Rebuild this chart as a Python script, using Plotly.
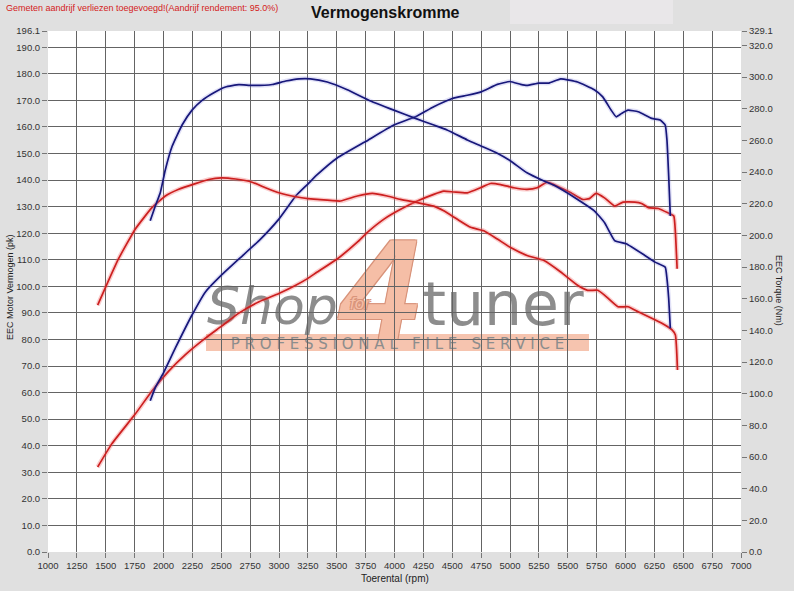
import plotly.graph_objects as go

# ---------------- data ----------------
tuned_power_rpm = [1885, 1929, 2001, 2103, 2247, 2363, 2499, 2653, 2827, 2999, 3145, 3250, 3331, 3504, 3750, 3994,
                   4181, 4340, 4500, 4630, 4750, 4890, 5000, 5092, 5147, 5250, 5337, 5439, 5585, 5730, 5803, 5876,
                   5920, 5964, 6022, 6110, 6227, 6300, 6344, 6359, 6374, 6388]
tuned_power_pk = [56.9, 61.9, 67.5, 76.8, 89.2, 97.9, 104.1, 110.3, 117.2, 125.3, 134.0, 138.5, 142.0, 148.3, 154.5,
                  160.7, 163.8, 167.6, 170.7, 171.9, 173.2, 176.0, 177.1, 176.0, 175.6, 176.5, 176.5, 178.1, 176.9,
                  174.0, 171.3, 166.3, 163.8, 165.0, 166.3, 165.7, 163.2, 162.6, 160.7, 155.0, 141.4, 126.5]

tuned_torque_rpm = [1885, 1929, 1972, 2016, 2074, 2161, 2247, 2334, 2436, 2537, 2653, 2767, 2942, 3058, 3174, 3273,
                    3418, 3591, 3793, 3994, 4181, 4340, 4455, 4630, 4744, 4890, 5005, 5147, 5294, 5381, 5585, 5730,
                    5818, 5906, 6006, 6168, 6256, 6344, 6359, 6374, 6388]
tuned_torque_nm = [209.3, 218.5, 226.9, 241.5, 256.1, 269.7, 279.1, 285.3, 290.1, 293.7, 295.2, 294.7, 295.3, 297.5,
                   298.9, 298.9, 296.9, 292.0, 284.9, 279.1, 273.9, 269.7, 266.6, 260.3, 256.6, 251.9, 247.0, 239.5,
                   234.3, 231.6, 222.7, 215.5, 208.1, 196.7, 194.7, 187.3, 183.1, 179.9, 172.7, 160.1, 141.3]

stock_power_rpm = [1430, 1552, 1755, 1900, 2045, 2190, 2363, 2500, 2653, 2827, 2999, 3145, 3250, 3331, 3504, 3678,
                   3765, 3909, 4053, 4198, 4340, 4426, 4514, 4630, 4744, 4831, 4919, 5033, 5147, 5235, 5323, 5410,
                   5527, 5628, 5687, 5745, 5818, 5906, 5979, 6081, 6139, 6198, 6286, 6374, 6418, 6432, 6447]
stock_power_pk = [32.0, 40.7, 51.9, 60.6, 68.1, 74.3, 80.5, 84.9, 89.9, 94.2, 97.3, 100.4, 103.0, 105.4, 110.3, 116.6,
                  120.3, 125.3, 129.0, 132.1, 134.6, 135.8, 135.5, 135.2, 137.1, 138.7, 138.3, 137.1, 136.5, 137.1,
                  139.2, 137.7, 135.2, 132.7, 133.0, 135.0, 133.3, 130.2, 131.7, 131.7, 131.2, 129.6, 129.3, 127.5,
                  126.5, 120.3, 106.6]

stock_torque_rpm = [1430, 1494, 1610, 1755, 1900, 2016, 2132, 2276, 2392, 2500, 2624, 2767, 2883, 2999, 3145, 3250,
                    3331, 3533, 3678, 3808, 3937, 4051, 4198, 4340, 4426, 4541, 4659, 4773, 4890, 5005, 5147, 5294,
                    5439, 5585, 5672, 5760, 5818, 5935, 6022, 6110, 6227, 6315, 6403, 6432, 6450]
stock_torque_nm = [155.9, 166.5, 185.1, 203.9, 217.5, 224.9, 229.1, 232.7, 235.3, 236.3, 235.6, 233.6, 230.1, 226.9,
                   224.4, 223.2, 222.7, 221.7, 224.9, 226.5, 224.9, 222.7, 220.7, 218.5, 215.5, 210.3, 205.1, 202.9,
                   197.7, 192.3, 187.3, 184.1, 176.9, 168.5, 165.3, 165.3, 162.3, 154.9, 154.9, 151.7, 147.7, 144.5,
                   140.3, 137.1, 115.0]

x_ticks = list(range(1000, 7001, 250))
left_ticks = [float(v) for v in range(0, 191, 10)] + [196.1]
right_ticks = [float(v) for v in range(0, 321, 20)] + [329.1]
left_max = 196.1
right_max = 329.1

title_text = "Vermogenskromme"
note_text = "Gemeten aandrijf verliezen toegevoegd!(Aandrijf rendement: 95.0%)"
x_title = "Toerental (rpm)"
left_title = "EEC Motor Vermogen (pk)"
right_title = "EEC Torque (Nm)"

# ---------------- figure ----------------
W, H = 794, 591
L, R, T, B = 48, 53, 31, 39
pw, ph = W - L - R, H - T - B


def px(x):
    return (x - L) / pw


def py(y):
    return (H - B - y) / ph


BLUE = "#17177a"
RED = "#cc1f1f"

fig = go.Figure()

for xs, ys, col, glow, axis in [
    (stock_torque_rpm, stock_torque_nm, RED, "rgba(240,110,110,0.35)", "y2"),
    (stock_power_rpm, stock_power_pk, RED, "rgba(240,110,110,0.35)", "y"),
    (tuned_torque_rpm, tuned_torque_nm, BLUE, "rgba(120,120,220,0.22)", "y2"),
    (tuned_power_rpm, tuned_power_pk, BLUE, "rgba(120,120,220,0.22)", "y"),
]:
    fig.add_trace(go.Scatter(x=xs, y=ys, mode="lines", yaxis=axis, hoverinfo="skip",
                             line=dict(color=glow, width=4.5, shape="spline", smoothing=0.4)))
    fig.add_trace(go.Scatter(x=xs, y=ys, mode="lines", yaxis=axis,
                             line=dict(color=col, width=1.7, shape="spline", smoothing=0.4)))

tick_font = dict(family="Liberation Sans, Arial", size=9.5, color="#333333")
GRID = "#646464"

fig.update_layout(
    width=W, height=H,
    margin=dict(l=L, r=R, t=T, b=B, pad=0),
    paper_bgcolor="#e0e0e0",
    plot_bgcolor="white",
    showlegend=False,
    font=dict(family="Liberation Sans, Arial", size=10, color="#333333"),
    xaxis=dict(range=[1000, 7000], tickvals=x_ticks, ticktext=[str(v) for v in x_ticks],
               showgrid=True, gridcolor=GRID, gridwidth=1, zeroline=False, showline=False, automargin=False,
               ticks="outside", ticklen=5, tickcolor="#777777", tickfont=tick_font),
    yaxis=dict(range=[0, left_max], tickvals=left_ticks, ticktext=[f"{v:.1f}" for v in left_ticks],
               showgrid=True, gridcolor=GRID, gridwidth=1, zeroline=False, showline=False, automargin=False,
               ticks="outside", ticklen=5, tickcolor="#777777", tickfont=tick_font),
    yaxis2=dict(range=[0, right_max], tickvals=right_ticks, ticktext=[f"{v:.1f}" for v in right_ticks],
                overlaying="y", side="right", showgrid=False, zeroline=False, showline=False, automargin=False,
                ticks="outside", ticklen=5, tickcolor="#777777", tickfont=tick_font),
)

# lighter strip in header
fig.add_shape(type="rect", xref="paper", yref="paper", x0=px(510), x1=px(673), y0=py(24), y1=py(0),
              fillcolor="#e9e7e9", line=dict(width=0), layer="below")

# watermark (drawn below the curves)
WM_GRAY = "#8d8d8d"
SALMON = "#f5bea6"
OUTLINE = "-1px -1px 0 #d8937a, 1px -1px 0 #d8937a, -1px 1px 0 #d8937a, 1px 1px 0 #d8937a"
fig.add_shape(type="rect", xref="paper", yref="paper", x0=px(206), x1=px(589), y0=py(351), y1=py(334),
              fillcolor=SALMON, line=dict(width=0), layer="below", opacity=0.9,
              label=dict(text="P R O F E S S I O N A L \u00a0 F I L E \u00a0 S E R V I C E",
                         textposition="middle center", padding=0,
                         font=dict(family="DejaVu Sans, Liberation Sans", size=15, color=WM_GRAY)))
fig.add_shape(type="rect", xref="paper", yref="paper", x0=px(200), x1=px(345), y0=py(337), y1=py(267),
              fillcolor="rgba(0,0,0,0)", line=dict(width=0), layer="below",
              label=dict(text="Shop", textposition="middle center", padding=0,
                         font=dict(family="DejaVu Sans, Liberation Sans", size=52, color=WM_GRAY, style="italic")))
fig.add_shape(type="rect", xref="paper", yref="paper", x0=px(340), x1=px(420), y0=py(336), y1=py(216),
              fillcolor="rgba(0,0,0,0)", line=dict(width=0), layer="below",
              label=dict(text="4", textposition="middle center", padding=0,
                         font=dict(family="Liberation Sans, Arial", size=142, color=SALMON,
                                   weight="bold", style="italic", shadow=OUTLINE)))
fig.add_shape(type="rect", xref="paper", yref="paper", x0=px(345), x1=px(375), y0=py(312), y1=py(290),
              fillcolor="rgba(0,0,0,0)", line=dict(width=0), layer="below",
              label=dict(text="for", textposition="middle center", padding=0,
                         font=dict(family="Liberation Sans, Arial", size=17, color=SALMON, style="italic",
                                   shadow=OUTLINE)))
fig.add_shape(type="rect", xref="paper", yref="paper", x0=px(416), x1=px(590), y0=py(330), y1=py(270),
              fillcolor="rgba(0,0,0,0)", line=dict(width=0), layer="below",
              label=dict(text="tuner", textposition="middle center", padding=0,
                         font=dict(family="DejaVu Sans, Liberation Sans", size=60, color=WM_GRAY)))

# texts
fig.add_annotation(text=f"<b>{title_text}</b>", xref="paper", yref="paper", x=px(385), y=py(12),
                   showarrow=False, xanchor="center", yanchor="middle",
                   font=dict(family="Liberation Sans, Arial", size=16, color="#111111"))
fig.add_annotation(text=note_text, xref="paper", yref="paper", x=px(4), y=py(8),
                   showarrow=False, xanchor="left", yanchor="middle",
                   font=dict(family="Liberation Sans, Arial", size=9, color="#d42020"))
fig.add_annotation(text=x_title, xref="paper", yref="paper", x=0.5, y=py(578),
                   showarrow=False, xanchor="center", yanchor="middle",
                   font=dict(family="Liberation Sans, Arial", size=10, color="#222222"))
fig.add_annotation(text=left_title, xref="paper", yref="paper", x=px(10), y=py(287),
                   showarrow=False, xanchor="center", yanchor="middle", textangle=-90,
                   font=dict(family="Liberation Sans, Arial", size=9, color="#222222"))
fig.add_annotation(text=right_title, xref="paper", yref="paper", x=px(779), y=py(290),
                   showarrow=False, xanchor="center", yanchor="middle", textangle=90,
                   font=dict(family="Liberation Sans, Arial", size=9, color="#222222"))

fig.write_html("out.html", config={"displayModeBar": False},
               post_script="document.body.style.margin='0';document.body.style.padding='0';")
